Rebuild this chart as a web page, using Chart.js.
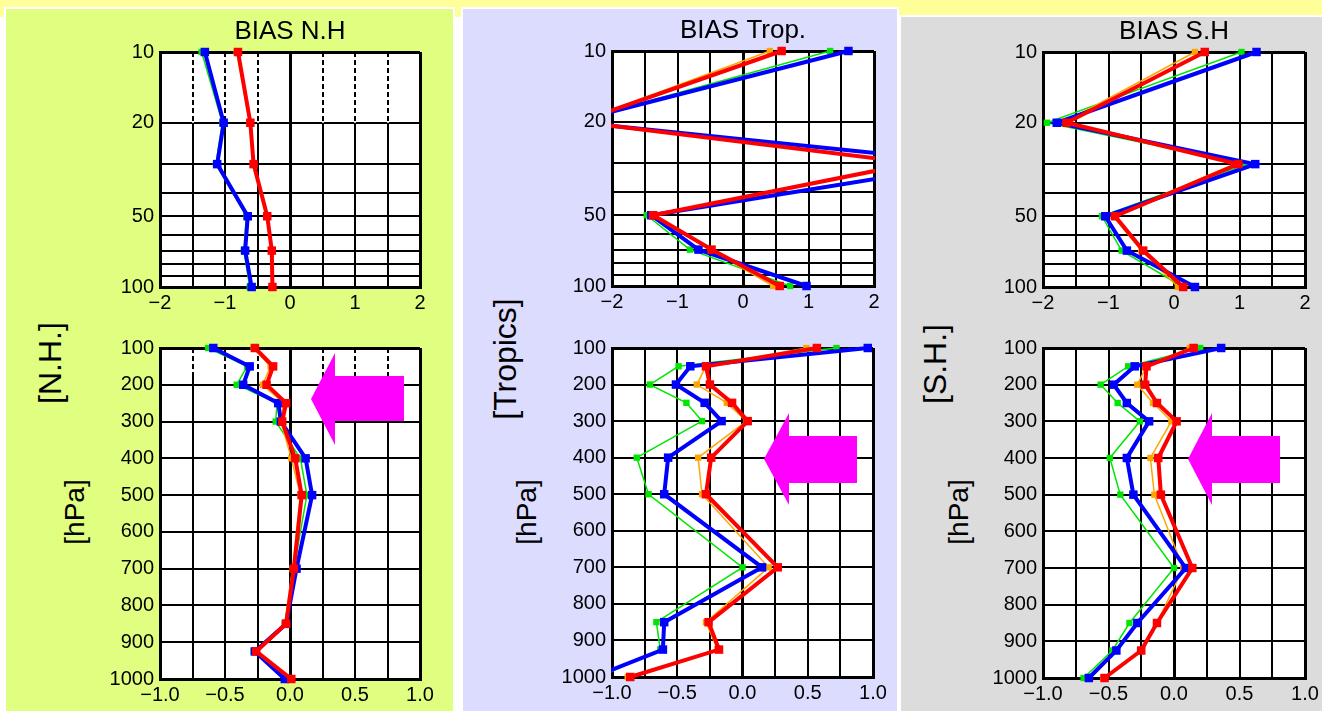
<!DOCTYPE html>
<html>
<head>
<meta charset="utf-8">
<script src="https://cdn.jsdelivr.net/npm/chart.js@4.4.1/dist/chart.umd.min.js"></script>
<style>
  html, body { margin: 0; padding: 0; background: #fff; }
  body { width: 1322px; height: 713px; position: relative; overflow: hidden;
         font-family: "Liberation Sans", Arial, sans-serif; }
  .strip { position: absolute; left: 0; top: 0; width: 1322px; height: 17px; background: #ffff99; }
  .panel { position: absolute; box-sizing: border-box; border: 2px solid #fff; }
  .side { position: absolute; transform: translate(-50%, -50%) rotate(-90deg);
          white-space: nowrap; color: #000; line-height: 1; }
  svg.arrows { position: absolute; left: 0; top: 0; pointer-events: none; }
</style>
</head>
<body>
<div class="strip"></div>
<div class="panel" style="left:4px;top:7px;width:451px;height:706px;background:#e0ff80"></div>
<div class="panel" style="left:461px;top:7px;width:438px;height:706px;background:#dcdcff"></div>
<div class="panel" style="left:899px;top:15px;width:427px;height:698px;background:#dcdcdc"></div>

<div class="side" style="left:50px;top:363px;font-size:32px">[N.H.]</div>
<div class="side" style="left:75px;top:512px;font-size:28px">[hPa]</div>
<div class="side" style="left:505px;top:359px;font-size:32px">[Tropics]</div>
<div class="side" style="left:527px;top:512px;font-size:28px">[hPa]</div>
<div class="side" style="left:935px;top:364px;font-size:32px">[S.H.]</div>
<div class="side" style="left:959px;top:512px;font-size:28px">[hPa]</div>

<script>
// pressure levels (hPa)
const stratLevels = [10, 20, 30, 50, 70, 100];
const tropLevels = [100, 150, 200, 250, 300, 400, 500, 700, 850, 925, 1000];
const stratGrid = [10, 20, 30, 40, 50, 60, 70, 80, 90, 100];
const stratLabels = [10, 20, 50, 100];

// N.H. bias
const nhStratRed    = [-0.80, -0.61, -0.56, -0.35, -0.28, -0.27];
const nhStratOrange = [-0.82, -0.62, -0.57, -0.36, -0.29, -0.28];
const nhStratBlue   = [-1.31, -1.02, -1.12, -0.65, -0.69, -0.59];
const nhStratGreen  = [-1.36, -1.04, -1.14, -0.67, -0.71, -0.62];
const nhTropRed     = [-0.27, -0.13, -0.18, -0.03, -0.06, 0.04, 0.09, 0.03, -0.03, -0.26, 0.01];
const nhTropOrange  = [-0.28, -0.15, -0.21, -0.05, -0.07, 0.01, 0.08, 0.02, -0.04, -0.27, 0.00];
const nhTropBlue    = [-0.59, -0.31, -0.36, -0.09, -0.07, 0.12, 0.17, 0.05, -0.03, -0.27, -0.04];
const nhTropGreen   = [-0.63, -0.33, -0.41, -0.10, -0.11, 0.08, 0.13, 0.03, -0.04, -0.28, -0.03];

// Tropics bias
const trStratRed    = [0.59, -2.50, 2.61, -1.37, -0.48, 0.56];
const trStratOrange = [0.41, -2.50, 2.55, -1.42, -0.50, 0.46];
const trStratBlue   = [1.61, -2.60, 3.52, -1.40, -0.68, 0.97];
const trStratGreen  = [1.33, -2.60, 3.40, -1.47, -0.81, 0.72];
const trTropRed     = [0.57, -0.28, -0.25, -0.08, 0.04, -0.24, -0.28, 0.27, -0.26, -0.18, -0.86];
const trTropOrange  = [0.49, -0.28, -0.35, -0.12, 0.03, -0.34, -0.31, 0.20, -0.28, -0.19, -0.88];
const trTropBlue    = [0.96, -0.40, -0.51, -0.29, -0.16, -0.57, -0.60, 0.15, -0.60, -0.61, -1.14];
const trTropGreen   = [0.72, -0.49, -0.71, -0.43, -0.31, -0.81, -0.72, 0.00, -0.66, -0.63, -1.10];

// S.H. bias
const shStratRed    = [0.47, -1.64, 0.98, -0.90, -0.47, 0.14];
const shStratOrange = [0.32, -1.69, 0.92, -0.93, -0.50, 0.06];
const shStratBlue   = [1.26, -1.79, 1.24, -1.05, -0.72, 0.32];
const shStratGreen  = [1.03, -1.94, 1.10, -1.10, -0.80, 0.14];
const shTropRed     = [0.15, -0.21, -0.22, -0.13, 0.02, -0.12, -0.10, 0.14, -0.13, -0.25, -0.53];
const shTropOrange  = [0.12, -0.21, -0.28, -0.16, -0.02, -0.18, -0.15, 0.07, -0.13, -0.26, -0.54];
const shTropBlue    = [0.36, -0.30, -0.46, -0.36, -0.19, -0.36, -0.31, 0.09, -0.28, -0.44, -0.65];
const shTropGreen   = [0.20, -0.35, -0.56, -0.43, -0.26, -0.49, -0.41, 0.00, -0.34, -0.47, -0.69];

const styles = {
  red:    { color: '#ff0000', width: 4,   radius: 6 },
  blue:   { color: '#0000ff', width: 4,   radius: 6 },
  orange: { color: '#ffa500', width: 1.5, radius: 4.5 },
  green:  { color: '#00e600', width: 1.5, radius: 4.5 }
};
const tickFont = { family: '"Liberation Sans", Arial, sans-serif', size: 20 };

const fmt = (v, d) => (v < -1e-9 ? '\u2212' : '') + Math.abs(v).toFixed(d);

// white chart area
const plotBg = {
  id: 'plotBg',
  beforeDraw(chart) {
    const a = chart.chartArea, ctx = chart.ctx;
    ctx.save();
    ctx.fillStyle = '#fff';
    ctx.fillRect(a.left, a.top, a.right - a.left, a.bottom - a.top);
    ctx.restore();
  }
};

// dashed vertical grid in a pressure band
const dashBand = {
  id: 'dashBand',
  beforeDatasetsDraw(chart, args, o) {
    if (!o.from) return;
    const ctx = chart.ctx, x = chart.scales.x, y = chart.scales.y;
    const y0 = y.getPixelForValue(o.from) + 2, y1 = y.getPixelForValue(o.to);
    ctx.save();
    ctx.strokeStyle = '#fff';
    ctx.lineWidth = 2;
    ctx.setLineDash([3, 5]);
    x.ticks.forEach(t => {
      if (t.value <= x.min || t.value >= x.max || Math.abs(t.value) < 1e-9) return;
      const px = Math.round(x.getPixelForValue(t.value));
      ctx.beginPath();
      ctx.moveTo(px, y0 + 3);
      ctx.lineTo(px, y1);
      ctx.stroke();
    });
    ctx.restore();
  }
};

function makeProfile(area, levels, series, opt) {
  const [L, T, R, B] = area;
  const padTop = opt.title ? 0 : 14;
  const head = opt.title ? 36 : 14;
  const w = R - L + 140, h = head + (B - T) + 35;
  const cv = document.createElement('canvas');
  cv.width = w; cv.height = h;
  cv.style.cssText = `position:absolute;left:${L - 70}px;top:${T - head}px;width:${w}px;height:${h}px`;
  document.body.appendChild(cv);

  const datasets = ['red', 'blue', 'orange', 'green'].map(k => ({
    label: k,
    data: levels.map((p, i) => ({ x: series[k][i], y: p })),
    showLine: true,
    borderColor: styles[k].color,
    backgroundColor: styles[k].color,
    borderWidth: styles[k].width,
    pointStyle: 'rect',
    pointRadius: styles[k].radius,
    pointBorderWidth: 0,
    clip: { left: 1, right: 1, top: 6, bottom: 6 }
  }));

  const strat = opt.strat;
  const xMax = strat ? 2 : 1;
  const edgeOrZero = (v, min, max) => Math.abs(v) < 1e-9 || Math.abs(v - min) < 1e-9 || Math.abs(v - max) < 1e-9;
  const fixY = s => { s.width = 70; s.paddingTop = 0; s.paddingBottom = 0; };

  new Chart(cv, {
    type: 'scatter',
    data: { datasets },
    plugins: [plotBg, dashBand],
    options: {
      responsive: false,
      animation: false,
      layout: { padding: { left: 0, right: 0, top: padTop, bottom: 0 } },
      plugins: {
        legend: { display: false },
        tooltip: { enabled: false },
        title: {
          display: !!opt.title,
          text: opt.title || '',
          color: '#000',
          font: { family: '"Liberation Sans", Arial, sans-serif', size: 26, weight: 'normal', lineHeight: '30px' },
          padding: { top: 1, bottom: 5 }
        },
        dashBand: opt.dash || {}
      },
      scales: {
        x: {
          type: 'linear',
          min: -xMax, max: xMax,
          ticks: {
            stepSize: strat ? 0.5 : 0.25,
            autoSkip: false, maxRotation: 0, padding: 4,
            color: '#000', font: tickFont,
            callback: v => strat
              ? (Math.abs(v - Math.round(v)) < 1e-9 ? fmt(v, 0) : '')
              : (Math.abs(v * 2 - Math.round(v * 2)) < 1e-9 ? fmt(v, 1) : '')
          },
          grid: {
            color: '#000', drawTicks: false,
            lineWidth: c => edgeOrZero(c.tick.value, -xMax, xMax) ? 3 : 2
          },
          border: { display: true, color: '#000', width: 3 },
          afterFit: s => { s.height = 35; s.paddingLeft = 0; s.paddingRight = 0; }
        },
        y: strat ? {
          type: 'logarithmic',
          min: 10, max: 100, reverse: true,
          afterBuildTicks: s => { s.ticks = stratGrid.map(v => ({ value: v })); },
          ticks: {
            autoSkip: false, padding: 6, color: '#000', font: tickFont,
            callback: v => stratLabels.includes(v) ? String(v) : ''
          },
          grid: { color: '#000', drawTicks: false, lineWidth: c => (c.tick.value === 10 || c.tick.value === 100) ? 3 : 2 },
          border: { display: true, color: '#000', width: 3 },
          afterFit: fixY
        } : {
          type: 'linear',
          min: 100, max: 1000, reverse: true,
          ticks: { stepSize: 100, autoSkip: false, padding: 6, color: '#000', font: tickFont,
                   callback: v => String(v) },
          grid: { color: '#000', drawTicks: false, lineWidth: c => (c.tick.value === 100 || c.tick.value === 1000) ? 3 : 2 },
          border: { display: true, color: '#000', width: 3 },
          afterFit: fixY
        },
        // empty right-hand axis keeps the plot centred under the title
        yPad: {
          type: 'linear', position: 'right', display: true,
          ticks: { display: false }, grid: { display: false }, border: { display: false },
          afterFit: fixY
        }
      }
    }
  });
}

makeProfile([160, 52, 420, 287], stratLevels,
  { red: nhStratRed, orange: nhStratOrange, blue: nhStratBlue, green: nhStratGreen },
  { strat: true, title: 'BIAS N.H', dash: { from: 10, to: 20 } });
makeProfile([160, 348, 420, 679], tropLevels,
  { red: nhTropRed, orange: nhTropOrange, blue: nhTropBlue, green: nhTropGreen },
  { strat: false, dash: { from: 100, to: 175 } });

makeProfile([612, 51, 874, 286], stratLevels,
  { red: trStratRed, orange: trStratOrange, blue: trStratBlue, green: trStratGreen },
  { strat: true, title: 'BIAS Trop.' });
makeProfile([612, 348, 873, 677], tropLevels,
  { red: trTropRed, orange: trTropOrange, blue: trTropBlue, green: trTropGreen },
  { strat: false });

makeProfile([1043, 52, 1305, 287], stratLevels,
  { red: shStratRed, orange: shStratOrange, blue: shStratBlue, green: shStratGreen },
  { strat: true, title: 'BIAS S.H' });
makeProfile([1043, 348, 1305, 678], tropLevels,
  { red: shTropRed, orange: shTropOrange, blue: shTropBlue, green: shTropGreen },
  { strat: false });
</script>

<svg class="arrows" width="1322" height="713">
  <polygon fill="#ff00ff" points="311,399 335,353 335,376 404,376 404,421 335,421 335,445"/>
  <polygon fill="#ff00ff" points="764,459 789,413 789,436 857,436 857,483 789,483 789,505"/>
  <polygon fill="#ff00ff" points="1188,459 1212,413 1212,436 1280,436 1280,483 1212,483 1212,505"/>
</svg>
</body>
</html>
